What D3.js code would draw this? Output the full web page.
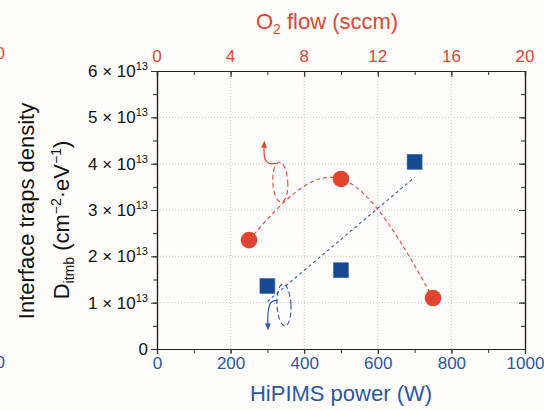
<!DOCTYPE html>
<html>
<head>
<meta charset="utf-8">
<script src="https://cdn.jsdelivr.net/npm/d3@7"></script>
<style>
  body { margin: 0; background: #fffdfc; }
  svg { display: block; font-family: "Liberation Sans", Arial, sans-serif; }
</style>
</head>
<body>
<div class="viz"></div>
<script>
// HiPIMS power series (blue squares, bottom axis)
const powerValues = [300, 500, 700];
const powerDit = [1.36e13, 1.70e13, 4.04e13];
// O2 flow series (red circles, top axis)
const o2Values = [5, 10, 15];
const o2Dit = [2.35e13, 3.67e13, 1.10e13];

const powerTicks = [0, 200, 400, 600, 800, 1000];
const o2Ticks = [0, 4, 8, 12, 16, 20];
const ditTicks = [0, 1, 2, 3, 4, 5, 6];

const red = "#e2452f", blue = "#174a8e", blueText = "#2b589f";

const width = 544, height = 411;
const margin = {left: 157, right: 19, top: 71, bottom: 62};

const svg = d3.select(".viz").append("svg")
  .attr("width", width)
  .attr("height", height);

const x = d3.scaleLinear().domain([0, 1000]).range([margin.left, width - margin.right]);
const xTop = d3.scaleLinear().domain([0, 20]).range([margin.left, width - margin.right]);
const y = d3.scaleLinear().domain([0, 6e13]).range([height - margin.bottom, margin.top]);
const x0 = x.range()[0], x1 = x.range()[1], y0 = y.range()[0], y1 = y.range()[1];

// grid
svg.append("g").selectAll("line")
  .data(powerTicks.slice(1, -1))
  .enter().append("line")
  .attr("x1", d => x(d)).attr("x2", d => x(d))
  .attr("y1", y0).attr("y2", y1)
  .attr("stroke", "#c8c8c8").attr("stroke-width", 1).attr("stroke-dasharray", "1,2");
svg.append("g").selectAll("line")
  .data(ditTicks.slice(1, -1))
  .enter().append("line")
  .attr("y1", d => y(d * 1e13)).attr("y2", d => y(d * 1e13))
  .attr("x1", x0).attr("x2", x1)
  .attr("stroke", "#c8c8c8").attr("stroke-width", 1).attr("stroke-dasharray", "1,2");

// axes
const minorX = d3.range(0, 1001, 100);
const minorY = d3.range(0, 6.01e13, 0.5e13);

const bottomAxis = svg.append("g").attr("transform", `translate(0,${y0})`)
  .call(d3.axisBottom(x).tickValues(minorX).tickSize(4).tickFormat(""));
bottomAxis.append("g")
  .call(d3.axisBottom(x).tickValues(powerTicks).tickSize(5).tickFormat(d3.format("d")));

const topAxis = svg.append("g").attr("transform", `translate(0,${y1})`)
  .call(d3.axisBottom(xTop).tickValues(d3.range(0, 21, 2)).tickSize(4).tickFormat(""));
topAxis.append("g")
  .call(d3.axisBottom(xTop).tickValues(o2Ticks).tickSize(6).tickFormat(""));

const leftAxis = svg.append("g").attr("transform", `translate(${x0},0)`)
  .call(d3.axisLeft(y).tickValues(minorY).tickSize(4).tickFormat(""));
leftAxis.append("g")
  .call(d3.axisLeft(y).tickValues(ditTicks.map(d => d * 1e13)).tickSize(6).tickFormat(""));

const rightAxis = svg.append("g").attr("transform", `translate(${x1},0)`)
  .call(d3.axisLeft(y).tickValues(minorY).tickSize(4).tickFormat(""));
rightAxis.append("g")
  .call(d3.axisLeft(y).tickValues(ditTicks.map(d => d * 1e13)).tickSize(6).tickFormat(""));

svg.selectAll(".domain").attr("stroke", "#222").attr("stroke-width", 1.2);
svg.selectAll(".tick line").attr("stroke", "#333");

bottomAxis.selectAll("text")
  .attr("fill", blueText).attr("font-size", 17)
  .style("font-family", "Liberation Sans, Arial, sans-serif");

// top tick labels
svg.append("g").selectAll("text")
  .data(o2Ticks)
  .enter().append("text")
  .attr("x", d => xTop(d)).attr("y", y1 - 9)
  .attr("text-anchor", "middle")
  .attr("fill", red).attr("font-size", 17)
  .text(d => d);

// left tick labels: n × 10^13
const yl = svg.append("g").selectAll("text")
  .data(ditTicks)
  .enter().append("text")
  .attr("x", x0 - 9).attr("y", d => y(d * 1e13) + 6)
  .attr("text-anchor", "end")
  .attr("fill", "#111").attr("font-size", 17);
yl.each(function(d) {
  const t = d3.select(this);
  if (d === 0) { t.text("0"); return; }
  t.append("tspan").text(d + " × 10");
  t.append("tspan").attr("font-size", 11).attr("dy", -7).text("13");
});

// clipped stray labels from neighbouring panel
svg.append("text").attr("x", 5).attr("y", 59).attr("text-anchor", "end")
  .attr("fill", red).attr("font-size", 17).text("0");
svg.append("text").attr("x", 5).attr("y", 368).attr("text-anchor", "end")
  .attr("fill", blueText).attr("font-size", 17).text("0");

// axis titles
svg.append("text")
  .attr("x", (x0 + x1) / 2).attr("y", 401)
  .attr("text-anchor", "middle").attr("fill", blueText).attr("font-size", 22)
  .text("HiPIMS power (W)");

const topTitle = svg.append("text")
  .attr("x", 327).attr("y", 29)
  .attr("text-anchor", "middle").attr("fill", red).attr("font-size", 22);
topTitle.append("tspan").text("O");
topTitle.append("tspan").attr("font-size", 14).attr("dy", 5).text("2");
topTitle.append("tspan").attr("dy", -5).text(" flow (sccm)");

const yTitle = svg.append("g").attr("transform", "translate(0,212) rotate(-90)");
yTitle.append("text")
  .attr("x", 1).attr("y", 34)
  .attr("text-anchor", "middle").attr("fill", "#111").attr("font-size", 22)
  .text("Interface traps density");
const yt2 = yTitle.append("text")
  .attr("x", -8).attr("y", 69)
  .attr("text-anchor", "middle").attr("fill", "#111").attr("font-size", 22);
yt2.append("tspan").text("D");
yt2.append("tspan").attr("font-size", 14).attr("dy", 5).text("itmb");
yt2.append("tspan").attr("dy", -5).text(" (cm");
yt2.append("tspan").attr("font-size", 14).attr("dy", -8).text("−2");
yt2.append("tspan").attr("dy", 8).text("·eV");
yt2.append("tspan").attr("font-size", 14).attr("dy", -8).text("−1");
yt2.append("tspan").attr("dy", 8).text(")");

// red guide curve through circles
const o2Pts = o2Values.map((v, i) => [v, o2Dit[i]]);
svg.append("path")
  .datum(o2Pts)
  .attr("d", d3.line().x(d => xTop(d[0])).y(d => y(d[1])).curve(d3.curveNatural))
  .attr("fill", "none").attr("stroke", red).attr("stroke-width", 1.1)
  .attr("stroke-dasharray", "4,3");

// blue linear fit
const fit = (() => {
  const mx = d3.mean(powerValues), my = d3.mean(powerDit);
  const sxy = d3.sum(powerValues, (v, i) => (v - mx) * (powerDit[i] - my));
  const sxx = d3.sum(powerValues, v => (v - mx) ** 2);
  const b = sxy / sxx;
  return v => my + b * (v - mx);
})();
const fitX = d3.extent(powerValues);
svg.append("path")
  .datum(fitX.map(v => [v, fit(v)]))
  .attr("d", d3.line().x(d => x(d[0])).y(d => y(d[1])))
  .attr("fill", "none").attr("stroke", "#3a64b0").attr("stroke-width", 1.2)
  .attr("stroke-dasharray", "3,3");

// annotations: dashed ellipses with arrows pointing to the axes
const defs = svg.append("defs");
[["arrRed", red], ["arrBlue", "#2b5aa6"]].forEach(([id, c]) => {
  defs.append("marker").attr("id", id)
    .attr("viewBox", "0 0 10 10").attr("refX", 5).attr("refY", 5)
    .attr("markerWidth", 6).attr("markerHeight", 7).attr("orient", "auto")
    .append("path").attr("d", "M0,1 L10,5 L0,9 Z").attr("fill", c);
});

const redNote = {cx: 335, cy: 3.6e13};
const blueNote = {cx: 345, cy: 0.95e13};

const rcx = x(redNote.cx), rcy = y(redNote.cy);
svg.append("ellipse")
  .attr("cx", rcx).attr("cy", rcy).attr("rx", 7.5).attr("ry", 20)
  .attr("transform", `rotate(-3,${rcx},${rcy})`)
  .attr("fill", "none").attr("stroke", red).attr("stroke-width", 1.1)
  .attr("stroke-dasharray", "5,3");
svg.append("path")
  .attr("d", `M${rcx - 4},${rcy - 19} C${rcx - 16},${rcy - 16} ${rcx - 17},${rcy - 24} ${rcx - 16},${rcy - 38}`)
  .attr("fill", "none").attr("stroke", red).attr("stroke-width", 1.2)
  .attr("marker-end", "url(#arrRed)");

const bcx = x(blueNote.cx), bcy = y(blueNote.cy);
svg.append("ellipse")
  .attr("cx", bcx).attr("cy", bcy).attr("rx", 7).attr("ry", 21)
  .attr("transform", `rotate(-3,${bcx},${bcy})`)
  .attr("fill", "none").attr("stroke", "#2b5aa6").attr("stroke-width", 1.1)
  .attr("stroke-dasharray", "5,3");
svg.append("path")
  .attr("d", `M${bcx - 6},${bcy - 4} C${bcx - 14},${bcy - 6} ${bcx - 17},${bcy} ${bcx - 16},${bcy + 22}`)
  .attr("fill", "none").attr("stroke", "#2b5aa6").attr("stroke-width", 1.2)
  .attr("marker-end", "url(#arrBlue)");

// markers
svg.append("g").selectAll("rect")
  .data(powerValues.map((v, i) => [v, powerDit[i]]))
  .enter().append("rect")
  .attr("x", d => x(d[0]) - 7.5).attr("y", d => y(d[1]) - 7.5)
  .attr("width", 15).attr("height", 15)
  .attr("fill", blue).attr("stroke", "#3d6ab0").attr("stroke-width", 0.6);

svg.append("g").selectAll("circle")
  .data(o2Pts)
  .enter().append("circle")
  .attr("cx", d => xTop(d[0])).attr("cy", d => y(d[1]))
  .attr("r", 8.3)
  .attr("fill", red);
</script>
</body>
</html>
